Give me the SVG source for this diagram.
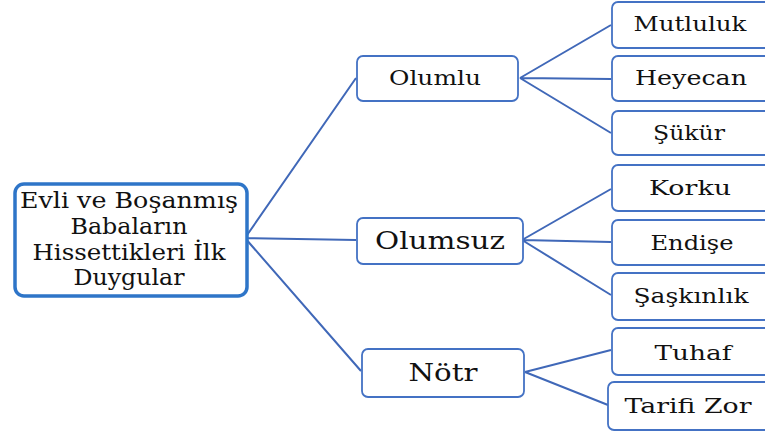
<svg xmlns="http://www.w3.org/2000/svg" width="765" height="434" viewBox="0 0 765 434">
<style>
.bg{fill:#ffffff}
.node{fill:#ffffff;stroke:#4472c4;stroke-width:1.8}
.root{fill:#ffffff;stroke:#2e75c8;stroke-width:3.5}
.conn{fill:none;stroke:#4068b8;stroke-width:2}
text{font-family:"DejaVu Serif","Liberation Serif",serif;fill:#111111;text-anchor:middle}
.t1{font-size:22px}
.t2{font-size:20px}
.t3{font-size:24px}
.t4{font-size:25px}
.t5{font-size:20px}
</style>
<rect class="bg" x="0" y="0" width="765" height="434"/>
<g id="connectors">
<path class="conn" d="M245 238 L356 78 M245 238 L356 240 M245 238 L361 371"/>
<path class="conn" d="M520 78 L611 25 M520 78 L611 79 M520 78 L611 133"/>
<path class="conn" d="M522 240 L611 189 M522 240 L611 242 M522 240 L611 295"/>
<path class="conn" d="M525 372 L611 350 M525 372 L608 405"/>
</g>
<g id="root">
<rect class="root" x="15" y="184" width="232" height="112" rx="9"/>
<text class="t1" x="129" y="208" textLength="218" lengthAdjust="spacingAndGlyphs">Evli ve Boşanmış</text>
<text class="t1" x="129" y="234" textLength="117" lengthAdjust="spacingAndGlyphs">Babaların</text>
<text class="t1" x="129" y="260" textLength="193" lengthAdjust="spacingAndGlyphs">Hissettikleri İlk</text>
<text class="t1" x="129" y="285" textLength="111" lengthAdjust="spacingAndGlyphs">Duygular</text>
</g>
<g id="olumlu">
<rect class="node" x="357" y="56" width="161" height="45" rx="6"/>
<text class="t2" x="435" y="85" textLength="92" lengthAdjust="spacingAndGlyphs">Olumlu</text>
</g>
<g id="olumsuz">
<rect class="node" x="357" y="218" width="166" height="46" rx="6"/>
<text class="t3" x="440" y="249" textLength="130" lengthAdjust="spacingAndGlyphs">Olumsuz</text>
</g>
<g id="notr">
<rect class="node" x="362" y="349" width="162" height="48" rx="6"/>
<text class="t4" x="443" y="381" textLength="69" lengthAdjust="spacingAndGlyphs">Nötr</text>
</g>
<g id="mutluluk">
<rect class="node" x="612" y="2" width="165" height="46" rx="6"/>
<text class="t5" x="690" y="31" textLength="113" lengthAdjust="spacingAndGlyphs">Mutluluk</text>
</g>
<g id="heyecan">
<rect class="node" x="612" y="56" width="165" height="45" rx="6"/>
<text class="t5" x="691" y="85" textLength="112" lengthAdjust="spacingAndGlyphs">Heyecan</text>
</g>
<g id="sukur">
<rect class="node" x="612" y="111" width="165" height="44" rx="6"/>
<text class="t5" x="689" y="140" textLength="72" lengthAdjust="spacingAndGlyphs">Şükür</text>
</g>
<g id="korku">
<rect class="node" x="612" y="165" width="165" height="46" rx="6"/>
<text class="t5" x="690" y="195" textLength="82" lengthAdjust="spacingAndGlyphs">Korku</text>
</g>
<g id="endise">
<rect class="node" x="612" y="220" width="165" height="45" rx="6"/>
<text class="t5" x="692" y="250" textLength="83" lengthAdjust="spacingAndGlyphs">Endişe</text>
</g>
<g id="saskinlik">
<rect class="node" x="612" y="273" width="165" height="47" rx="6"/>
<text class="t5" x="691" y="303" textLength="115" lengthAdjust="spacingAndGlyphs">Şaşkınlık</text>
</g>
<g id="tuhaf">
<rect class="node" x="612" y="328" width="165" height="47" rx="6"/>
<text class="t5" x="693" y="360" textLength="77" lengthAdjust="spacingAndGlyphs">Tuhaf</text>
</g>
<g id="tarifizor">
<rect class="node" x="608" y="382" width="169" height="48" rx="6"/>
<text class="t5" x="688" y="413" textLength="127" lengthAdjust="spacingAndGlyphs">Tarifi Zor</text>
</g>
</svg>
